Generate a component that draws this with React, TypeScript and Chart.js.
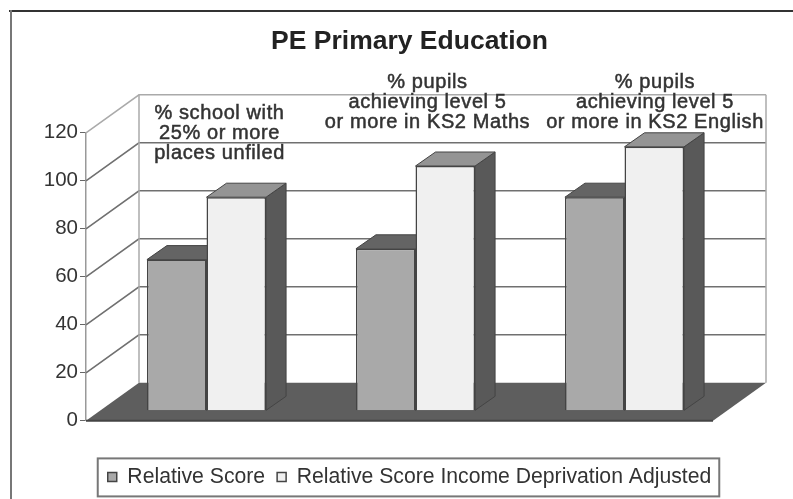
import React, { useEffect, useRef } from "react";
import { Chart, registerables } from "chart.js";

Chart.register(...registerables);

const categories: string[][] = [
  ["% school with", "25% or more", "places unfiled"],
  ["% pupils", "achieving level 5", "or more in KS2 Maths"],
  ["% pupils", "achieving level 5", "or more in KS2 English"],
];
const relativeScore = [63, 67.5, 89];
const adjustedScore = [89, 102, 110];
const seriesNames = ["Relative Score", "Relative Score Income Deprivation Adjusted"];

const FONT = "'Liberation Sans', Arial, sans-serif";
const WALL = { dx: 53, dy: -38 };
const PLANE = { dx: 16, dy: -10 };
const DEPTH = { dx: 20, dy: -14 };
const LABEL_SHIFT = [13, 12, 30.5];
const LABEL_TOP = [113, 82, 82];

const poly = (ctx: CanvasRenderingContext2D, pts: number[][], fill: string, stroke?: string) => {
  ctx.beginPath();
  pts.forEach(([x, y], i) => (i ? ctx.lineTo(x, y) : ctx.moveTo(x, y)));
  ctx.closePath();
  ctx.fillStyle = fill;
  ctx.fill();
  if (stroke) {
    ctx.strokeStyle = stroke;
    ctx.lineWidth = 1;
    ctx.stroke();
  }
};

const scene3d = {
  id: "scene3d",
  beforeDraw(chart: any) {
    const { ctx, width, height } = chart;
    ctx.save();
    ctx.fillStyle = "#ffffff";
    ctx.fillRect(0, 0, width, height);
    ctx.fillStyle = "#333333";
    ctx.fillRect(9, 10, width - 9, 2);
    ctx.fillStyle = "#777777";
    ctx.fillRect(10, 10, 2, height - 10);
    ctx.restore();
  },
  beforeDatasetsDraw(chart: any) {
    const { ctx, chartArea: a, scales } = chart;
    const y = scales.y;
    const y0 = y.getPixelForValue(0);
    ctx.save();
    // walls and gridlines
    y.ticks.forEach((t: any) => {
      const p = y.getPixelForValue(t.value);
      if (t.value === 0) return;
      const top = t.value === y.max;
      ctx.strokeStyle = top ? "#aaaaaa" : "#707070";
      ctx.lineWidth = top ? 1.5 : 1.6;
      ctx.beginPath();
      ctx.moveTo(a.left, p);
      ctx.lineTo(a.left + WALL.dx, p + WALL.dy);
      ctx.lineTo(a.right + WALL.dx, p + WALL.dy);
      ctx.stroke();
    });
    ctx.strokeStyle = "#aaaaaa";
    ctx.lineWidth = 1.5;
    const topY = y.getPixelForValue(y.max) + WALL.dy;
    [a.left + WALL.dx, a.right + WALL.dx].forEach((x: number) => {
      ctx.beginPath();
      ctx.moveTo(x, topY);
      ctx.lineTo(x, y0 + WALL.dy);
      ctx.stroke();
    });
    // floor
    poly(ctx, [
      [a.left, y0],
      [a.right, y0],
      [a.right + WALL.dx, y0 + WALL.dy],
      [a.left + WALL.dx, y0 + WALL.dy],
    ], "#5e5e5e");
    ctx.strokeStyle = "#444444";
    ctx.lineWidth = 2;
    ctx.beginPath();
    ctx.moveTo(a.left, y0);
    ctx.lineTo(a.right, y0);
    ctx.stroke();
    // extruded bar sides and tops
    const topColors = ["#646464", "#949494"];
    chart.data.datasets.forEach((_: any, di: number) => {
      chart.getDatasetMeta(di).data.forEach((el: any) => {
        const l = el.x - el.width / 2 + PLANE.dx;
        const r = el.x + el.width / 2 + PLANE.dx;
        const t = el.y + PLANE.dy;
        const b = el.base + PLANE.dy;
        poly(ctx, [[r, t], [r + DEPTH.dx, t + DEPTH.dy], [r + DEPTH.dx, b + DEPTH.dy], [r, b]], "#595959", "#444444");
        poly(ctx, [[l, t], [l + DEPTH.dx, t + DEPTH.dy], [r + DEPTH.dx, t + DEPTH.dy], [r, t]], topColors[di], "#444444");
      });
    });
    ctx.restore();
    ctx.save();
    ctx.translate(PLANE.dx, PLANE.dy);
  },
  afterDatasetsDraw(chart: any) {
    const { ctx, scales } = chart;
    ctx.restore();
    ctx.save();
    ctx.font = `20px ${FONT}`;
    (ctx as any).letterSpacing = "0.6px";
    ctx.fillStyle = "#333333";
    ctx.strokeStyle = "#333333";
    ctx.lineWidth = 0.5;
    ctx.textAlign = "center";
    ctx.textBaseline = "middle";
    chart.data.labels.forEach((lines: string[], i: number) => {
      const x = scales.x.getPixelForValue(i) + PLANE.dx + LABEL_SHIFT[i];
      lines.forEach((line, j) => {
        ctx.fillText(line, x, LABEL_TOP[i] + j * 20);
        ctx.strokeText(line, x, LABEL_TOP[i] + j * 20);
      });
    });
    ctx.restore();
  },
  afterDraw(chart: any) {
    const { ctx, legend } = chart;
    const boxes = legend.legendHitBoxes;
    const left = Math.min(...boxes.map((b: any) => b.left)) - 10;
    const right = Math.max(...boxes.map((b: any) => b.left + b.width)) + 8;
    const cy = boxes[0].top + boxes[0].height / 2;
    ctx.save();
    ctx.strokeStyle = "#777777";
    ctx.lineWidth = 2;
    ctx.strokeRect(left, cy - 18.5, right - left, 38);
    ctx.restore();
  },
};

export default function App() {
  const ref = useRef<HTMLCanvasElement | null>(null);
  useEffect(() => {
    const chart = new Chart(ref.current as HTMLCanvasElement, {
      type: "bar",
      data: {
        labels: categories as any,
        datasets: [
          { label: seriesNames[0], data: relativeScore, backgroundColor: "#a9a9a9", borderColor: "#444444", borderWidth: 1.5 },
          { label: seriesNames[1], data: adjustedScore, backgroundColor: "#f0f0f0", borderColor: "#444444", borderWidth: 1.5 },
        ],
      },
      options: {
        responsive: false,
        animation: false,
        layout: { padding: { left: 26, right: 0, top: 0, bottom: 1.5 } },
        datasets: { bar: { barPercentage: 1, categoryPercentage: 0.57 } },
        plugins: {
          tooltip: { enabled: false },
          title: {
            display: true,
            text: "PE Primary Education",
            color: "#222222",
            font: { family: FONT, size: 26.5, weight: "bold" },
            padding: { top: 26, bottom: 75 },
          },
          legend: {
            position: "bottom",
            labels: {
              boxWidth: 9,
              boxHeight: 9,
              padding: 12,
              color: "#333333",
              font: { family: FONT, size: 21.2 },
            },
          },
        },
        scales: {
          x: {
            grid: { display: false },
            border: { display: false },
            ticks: { display: false },
            afterFit: (s: any) => { s.height = 33.5; },
          },
          y: {
            min: 0,
            max: 120,
            ticks: { stepSize: 20, color: "#333333", padding: 2, font: { family: FONT, size: 20.5 } },
            grid: { drawOnChartArea: false, drawTicks: true, tickLength: 6, color: "#666666" },
            border: { display: true, color: "#999999", width: 1.5 },
            afterFit: (s: any) => { s.width = 60; },
          },
          yr: {
            position: "right",
            grid: { display: false },
            border: { display: false },
            ticks: { display: false },
            afterFit: (s: any) => { s.width = 80; },
          },
        },
      } as any,
      plugins: [scene3d],
    });
    return () => chart.destroy();
  }, []);
  return (
    <div style={{ position: "absolute", left: 0, top: 0, width: 793, height: 499 }}>
      <canvas ref={ref} width={793} height={499} style={{ display: "block", filter: "blur(0.6px)" }} />
    </div>
  );
}
